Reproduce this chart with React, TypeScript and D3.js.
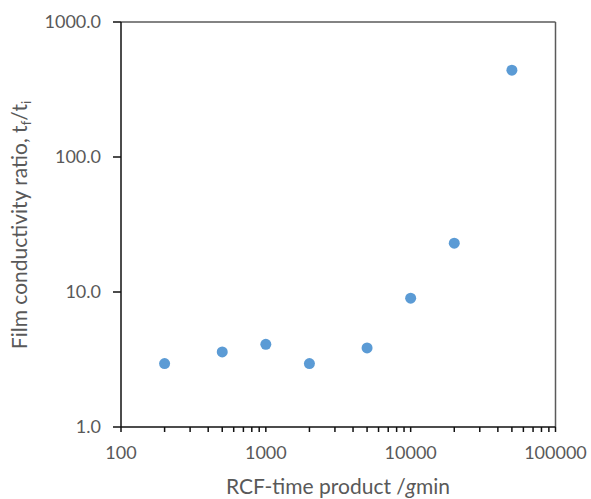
import React from "react";
import * as d3 from "d3";

const rcfTime = [200, 500, 1000, 2000, 5000, 10000, 20000, 50000];
const ratio = [2.95, 3.6, 4.1, 2.95, 3.85, 9.0, 23.0, 440];
const xTicks = [100, 1000, 10000, 100000];
const yTicks = [1, 10, 100, 1000];

export default function App() {
  const W = 591, H = 499;
  const x = d3.scaleLog().domain([100, 100000]).range([121, 555.5]);
  const y = d3.scaleLog().domain([1, 1000]).range([427, 22]);
  const minor: number[] = [];
  for (let d = 100; d < 100000; d *= 10) {
    for (let k = 2; k <= 9; k++) minor.push(d * k);
  }
  const font = "Lato, 'Open Sans', sans-serif";
  const txt = "#595959";
  const axis = "#111";
  const frame = "#5a5a5a";
  const x0 = x(100), x1 = x(100000), y0 = y(1), y1 = y(1000);
  return (
    <svg width={W} height={H} style={{ position: "absolute", left: 0, top: 0 }} fontFamily={font}>
      <rect x={0} y={0} width={W} height={H} fill="#fff" />
      {/* frame top/right */}
      <line x1={x0} x2={x1} y1={y1} y2={y1} stroke={frame} strokeWidth={1.5} />
      <line x1={x1} x2={x1} y1={y1} y2={y0} stroke={frame} strokeWidth={1.5} />
      {/* y ticks */}
      {yTicks.map((t) => (
        <g key={"y" + t}>
          <line x1={x0 - 8} x2={x0} y1={y(t)} y2={y(t)} stroke={axis} strokeWidth={1.5} />
          <text x={101} y={y(t)} dy="0.35em" textAnchor="end" fontSize={18} fill={txt}>{d3.format(".1f")(t)}</text>
        </g>
      ))}
      {/* x ticks */}
      {xTicks.map((t) => (
        <g key={"x" + t}>
          <line x1={x(t)} x2={x(t)} y1={y0} y2={y0 + 5} stroke={axis} strokeWidth={1.5} />
          <text x={x(t)} y={459} textAnchor="middle" fontSize={18} fill={txt}>{t}</text>
        </g>
      ))}
      {minor.map((t) => (
        <line key={"m" + t} x1={x(t)} x2={x(t)} y1={y0} y2={y0 + 5} stroke={axis} strokeWidth={1.5} />
      ))}
      {/* axes */}
      <line x1={x0} x2={x0} y1={y1} y2={y0} stroke={axis} strokeWidth={1.5} />
      <line x1={x0} x2={x1} y1={y0} y2={y0} stroke={axis} strokeWidth={1.5} />
      {/* points */}
      {rcfTime.map((v, i) => (
        <circle key={i} cx={x(v)} cy={y(ratio[i])} r={5.5} fill="#5B9BD5" />
      ))}
      {/* axis titles */}
      <text x={338} y={494} textAnchor="middle" fontSize={21} fill={txt}>
        RCF-time product /<tspan fontStyle="italic">g</tspan>min
      </text>
      <text transform={`translate(27,225) rotate(-90)`} textAnchor="middle" fontSize={21} fill={txt}>
        Film conductivity ratio, t<tspan fontSize={13} dy={4}>f</tspan><tspan dy={-4}>/t</tspan><tspan fontSize={13} dy={4}>i</tspan>
      </text>
    </svg>
  );
}
